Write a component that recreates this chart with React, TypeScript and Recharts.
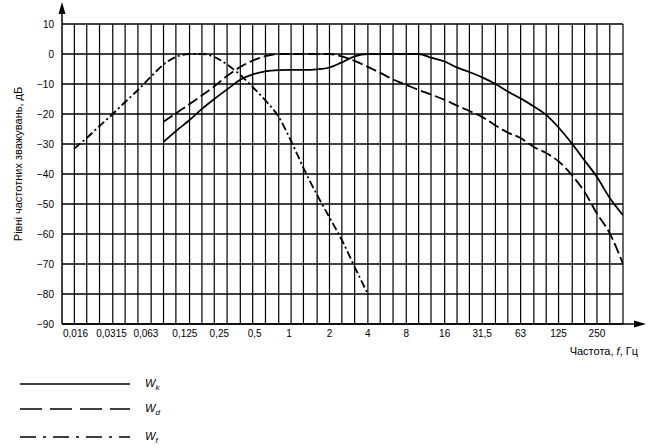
import React from 'react'
import { LineChart, Line, XAxis, YAxis, CartesianGrid, ReferenceLine } from 'recharts'

const FONT = '"Liberation Sans", Arial, sans-serif'

// 1/3-octave band centre frequencies used for the vertical grid
const THIRD_OCTAVES = [
  0.02, 0.025, 0.0315, 0.04, 0.05, 0.063, 0.08, 0.1, 0.125, 0.16, 0.2, 0.25, 0.315, 0.4, 0.5,
  0.63, 0.8, 1, 1.25, 1.6, 2, 2.5, 3.15, 4, 5, 6.3, 8, 10, 12.5, 16, 20, 25, 31.5, 40, 50, 63,
  80, 100, 125, 160, 200, 250, 315, 400,
]

const X_TICKS = [0.016, 0.0315, 0.063, 0.125, 0.25, 0.5, 1, 2, 4, 8, 16, 31.5, 63, 125, 250]
const Y_TICKS = [-90, -80, -70, -60, -50, -40, -30, -20, -10, 0, 10]

// Wk and Wd: 0.1 Hz .. 400 Hz
const WKD_FREQ = [
  0.1, 0.125, 0.16, 0.2, 0.25, 0.315, 0.4, 0.5, 0.63, 0.8, 1, 1.25, 1.6, 2, 2.5, 3.15, 4, 5,
  6.3, 8, 10, 12.5, 16, 20, 25, 31.5, 40, 50, 63, 80, 100, 125, 160, 200, 250, 315, 400,
]
const WK_DB = [
  -29.3, -25.7, -22, -18.3, -15, -11.8, -8.6, -6.8, -5.8, -5.4, -5.3, -5.3, -5.1, -4.5, -2.8,
  -0.8, 0, 0, 0, 0, 0, -1.2, -2.5, -4.5, -6, -7.8, -10, -12.5, -14.8, -17.5, -20.3, -24.5,
  -30, -35.5, -41, -48, -53.7,
]
const WD_DB = [
  -22.6, -19.8, -16.7, -13.8, -10.8, -7.3, -4.3, -2.2, -0.7, 0, 0, 0, 0, 0, -0.8, -2.3, -4.3,
  -6.3, -8.5, -10.3, -12, -13.5, -15.3, -17.2, -19, -21, -23.8, -26.2, -28, -31, -33, -35.8,
  -40.5, -46, -53.2, -59.8, -70,
]

// Wf: 0.02 Hz .. 4 Hz
const WF_FREQ = [
  0.02, 0.025, 0.0315, 0.04, 0.05, 0.063, 0.08, 0.1, 0.125, 0.16, 0.2, 0.25, 0.315, 0.4, 0.5,
  0.63, 0.8, 1, 1.25, 1.6, 2, 2.5, 3.15, 4,
]
const WF_DB = [
  -31.5, -28, -24, -20, -16, -12, -7.5, -3.5, -1, 0, 0, -1, -3.5, -7, -11, -15.5, -21,
  -29, -38, -47, -54.5, -62, -71, -80,
]

// small label nudges so the labels sit where the printed figure has them
const TICK_NUDGE: Record<number, number> = { 0.0315: 12, 0.063: 8, 0.125: 9, 0.25: 5, 0.5: 2, 1: -2 }

const fmtX = (v: number) => String(v).replace('.', ',')
const fmtY = (v: number) => String(v).replace('-', '\u2212')

function XTick(props: any) {
  const { x, y, payload } = props
  const v = payload.value
  const first = v === X_TICKS[0]
  return (
    <text
      x={first ? x + 1 : x + (TICK_NUDGE[v] ?? 0)}
      y={y}
      dy="0.71em"
      textAnchor={first ? 'start' : 'middle'}
      fontSize={10}
      fontFamily={FONT}
      fill="#000"
    >
      {fmtX(v)}
    </text>
  )
}

export default function App() {
  const wk = WKD_FREQ.map((f, i) => ({ f, db: WK_DB[i] }))
  const wd = WKD_FREQ.map((f, i) => ({ f, db: WD_DB[i] }))
  const wf = WF_FREQ.map((f, i) => ({ f, db: WF_DB[i] }))

  return (
    <div style={{ position: 'absolute', left: 0, top: 0, width: 649, height: 448, background: '#fff' }}>
      <LineChart width={649} height={448} margin={{ top: 24, right: 26, bottom: 94, left: 12 }}>
        <CartesianGrid vertical={false} stroke="#000" strokeWidth={1.3} />
        {THIRD_OCTAVES.map(f => (
          <ReferenceLine key={f} x={f} stroke="#000" strokeWidth={1.2} />
        ))}
        <XAxis
          type="number"
          dataKey="f"
          scale="log"
          domain={[0.016, 400]}
          allowDataOverflow
          ticks={X_TICKS}
          interval={0}
          tick={(p: any) => <XTick {...p} />}
          tickLine={false}
          tickSize={0}
          tickMargin={6}
          height={30}
          axisLine={{ stroke: '#000', strokeWidth: 1.5 }}
        />
        <YAxis
          type="number"
          domain={[-90, 10]}
          ticks={Y_TICKS}
          interval={0}
          tickFormatter={fmtY}
          tick={{ fontSize: 10, fontFamily: FONT, fill: '#000' }}
          tickLine={false}
          tickSize={0}
          tickMargin={8}
          width={50}
          axisLine={{ stroke: '#000', strokeWidth: 1.5 }}
        />
        <Line data={wk} dataKey="db" type="monotone" stroke="#000" strokeWidth={1.8} dot={false} isAnimationActive={false} />
        <Line data={wd} dataKey="db" type="monotone" stroke="#000" strokeWidth={1.8} strokeDasharray="11 4" dot={false} isAnimationActive={false} />
        <Line data={wf} dataKey="db" type="monotone" stroke="#000" strokeWidth={1.8} strokeDasharray="8 3 2 3" dot={false} isAnimationActive={false} />
      </LineChart>

      <svg width={649} height={448} style={{ position: 'absolute', left: 0, top: 0, pointerEvents: 'none' }}>
        {/* axis arrows */}
        <line x1={62} y1={24} x2={62} y2={12} stroke="#000" strokeWidth={1.5} />
        <polygon points="62,2 58.5,14 65.5,14" fill="#000" />
        <line x1={623} y1={324} x2={636} y2={324} stroke="#000" strokeWidth={1.5} />
        <polygon points="646,324 634,320.5 634,327.5" fill="#000" />

        <text x={18} y={164} transform="rotate(-90 18 164)" textAnchor="middle" dominantBaseline="central" fontSize={11} fontFamily={FONT} fill="#000">
          Рівні частотних зважувань, дБ
        </text>
        <text x={638} y={355} textAnchor="end" fontSize={11} fontFamily={FONT} fill="#000">
          Частота, <tspan fontStyle="italic">f</tspan>, Гц
        </text>

        {/* legend */}
        <line x1={20} y1={384} x2={130} y2={384} stroke="#000" strokeWidth={1.3} />
        <line x1={20} y1={409} x2={130} y2={409} stroke="#000" strokeWidth={1.3} strokeDasharray="22 8" />
        <line x1={20} y1={437} x2={130} y2={437} stroke="#000" strokeWidth={1.3} strokeDasharray="16 7 3 7" />
        {[
          { y: 384, sub: 'k' },
          { y: 409, sub: 'd' },
          { y: 437, sub: 'f' },
        ].map(l => (
          <text key={l.sub} x={145} y={l.y + 3} fontSize={11} fontFamily={FONT} fontStyle="italic" fill="#000">
            W<tspan fontSize={8} dy={3}>{l.sub}</tspan>
          </text>
        ))}
      </svg>
    </div>
  )
}
